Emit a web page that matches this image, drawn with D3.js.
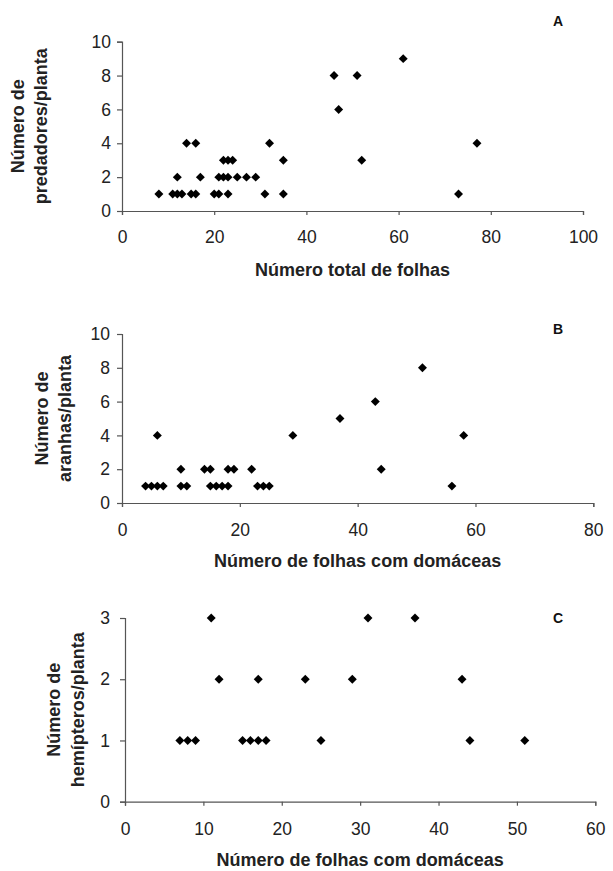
<!DOCTYPE html>
<html>
<head>
<meta charset="utf-8">
<script src="https://cdn.jsdelivr.net/npm/d3@7"></script>
<style>
  html, body { margin: 0; padding: 0; background: #fff; }
  svg { display: block; }
  text { font-family: "Liberation Sans", Arial, sans-serif; }
</style>
</head>
<body>
<svg id="chart" width="613" height="871"></svg>
<script>
// ---- Data ----
// Panel A: total leaves vs predators per plant
const aX = [8,11,12,13,15,16,20,21,23,31,35,73, 12,17,21,22,23,25,27,29, 22,23,24,35,52, 14,16,32,77, 47, 46,51, 61];
const aY = [1,1,1,1,1,1,1,1,1,1,1,1,           2,2,2,2,2,2,2,2,         3,3,3,3,3,     4,4,4,4,     6,  8,8,    9];
// Panel B: leaves with domatia vs spiders per plant
const bX = [4,5,6,7,10,11,15,16,17,18,23,24,25,56, 10,14,15,18,19,22,44, 6,29,58, 37, 43, 51];
const bY = [1,1,1,1,1,1,1,1,1,1,1,1,1,1,            2,2,2,2,2,2,2,        4,4,4,    5,  6,  8];
// Panel C: leaves with domatia vs hemipterans per plant
const cX = [7,8,9,15,16,17,18,25,44,51, 12,17,23,29,43, 11,31,37];
const cY = [1,1,1,1,1,1,1,1,1,1,        2,2,2,2,2,      3,3,3];

const aXTicks = [0,20,40,60,80,100];
const aYTicks = [0,2,4,6,8,10];
const bXTicks = [0,20,40,60,80];
const bYTicks = [0,2,4,6,8,10];
const cXTicks = [0,10,20,30,40,50,60];
const cYTicks = [0,1,2,3];

const panels = [
  { id: "A", xs: aX, ys: aY, xDom: [0,100], yDom: [0,10], xTicks: aXTicks, yTicks: aYTicks,
    left: 122, right: 583, top: 41.7, bottom: 211,
    xTitle: "Número total de folhas", xTitleY: 276,
    yTitle: ["Número de", "predadores/planta"], yTitleX: [24, 47],
    yPad: 6, xPad: 16, labelY: 25.7 },
  { id: "B", xs: bX, ys: bY, xDom: [0,80], yDom: [0,10], xTicks: bXTicks, yTicks: bYTicks,
    left: 122, right: 593.3, top: 334, bottom: 503,
    xTitle: "Número de folhas com domáceas", xTitleY: 567,
    yTitle: ["Número de", "aranhas/planta"], yTitleX: [48, 71],
    yPad: 7, xPad: 17, labelY: 334 },
  { id: "C", xs: cX, ys: cY, xDom: [0,60], yDom: [0,3], xTicks: cXTicks, yTicks: cYTicks,
    left: 125, right: 595.3, top: 618, bottom: 801.7,
    xTitle: "Número de folhas com domáceas", xTitleY: 866,
    yTitle: ["Número de", "hemípteros/planta"], yTitleX: [60, 84],
    yPad: 10, xPad: 17, labelY: 623 }
];

const svg = d3.select("#chart");
const axisColor = "#555";
const diamond = d3.symbol().type(d3.symbolSquare).size(40);

panels.forEach(p => {
  const x = d3.scaleLinear().domain(p.xDom).range([p.left, p.right]);
  const y = d3.scaleLinear().domain(p.yDom).range([p.bottom, p.top]);
  const g = svg.append("g");

  const xa = g.append("g")
    .attr("transform", `translate(0,${p.bottom})`)
    .call(d3.axisBottom(x).tickValues(p.xTicks).tickSize(4).tickPadding(p.xPad).tickFormat(d3.format("d")));
  const ya = g.append("g")
    .attr("transform", `translate(${p.left},0)`)
    .call(d3.axisLeft(y).tickValues(p.yTicks).tickSize(5).tickPadding(p.yPad).tickFormat(d3.format("d")));

  [xa, ya].forEach(a => {
    a.select(".domain").attr("stroke", axisColor).attr("stroke-width", 1.2);
    a.selectAll(".tick line").attr("stroke", axisColor).attr("stroke-width", 1.2);
    a.selectAll(".tick text").attr("fill", "#222").style("font-size", "17.5px");
  });

  g.selectAll("path.pt")
    .data(p.xs.map((v, i) => [v, p.ys[i]]))
    .join("path")
    .attr("class", "pt")
    .attr("d", diamond)
    .attr("fill", "#000")
    .attr("transform", d => `translate(${x(d[0])},${y(d[1])}) rotate(45)`);

  g.append("text")
    .attr("x", (p.left + p.right) / 2)
    .attr("y", p.xTitleY)
    .attr("text-anchor", "middle")
    .style("font-size", "18px")
    .style("font-weight", "bold")
    .attr("fill", "#222")
    .text(p.xTitle);

  const cy = (p.top + p.bottom) / 2;
  p.yTitle.forEach((t, i) => {
    g.append("text")
      .attr("transform", `translate(${p.yTitleX[i]},${cy}) rotate(-90)`)
      .attr("text-anchor", "middle")
      .style("font-size", "18px")
      .style("font-weight", "bold")
      .attr("fill", "#222")
      .text(t);
  });

  g.append("text")
    .attr("x", 558)
    .attr("y", p.labelY)
    .attr("text-anchor", "middle")
    .style("font-size", "14px")
    .style("font-weight", "bold")
    .attr("fill", "#111")
    .text(p.id);
});
</script>
</body>
</html>
